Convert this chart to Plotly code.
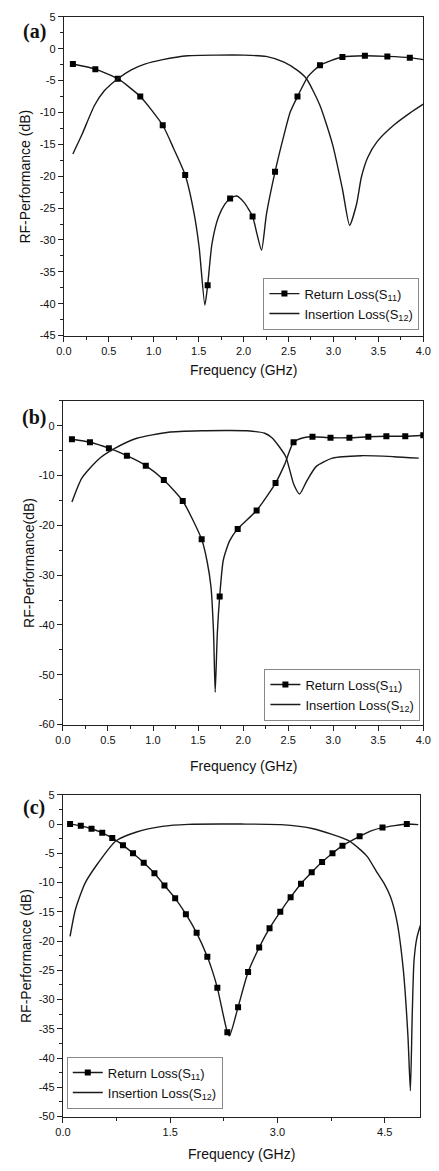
import plotly.graph_objects as go

# ---------------- data ----------------
# Panel (a)
a_s11_x = [0.1, 0.35, 0.6, 0.85, 1.1, 1.22, 1.35, 1.45, 1.505, 1.569, 1.6, 1.648, 1.72, 1.79, 1.85, 1.923,
           2.005, 2.1, 2.148, 2.2, 2.255, 2.35, 2.45, 2.52, 2.6, 2.72, 2.85, 3.1, 3.35, 3.6, 3.85, 4.0]
a_s11_y = [-2.4, -3.2, -4.7, -7.5, -12.0, -15.6, -19.8, -25.9, -31.1, -40.2, -37.1, -30.6, -26.4, -24.4, -23.5, -23.1,
           -24.1, -26.3, -29.0, -31.6, -25.9, -19.3, -13.5, -9.9, -7.5, -4.3, -2.6, -1.3, -1.1, -1.2, -1.4, -1.7]
a_mk_x = [0.1, 0.35, 0.6, 0.85, 1.1, 1.35, 1.6, 1.85, 2.1, 2.35, 2.6, 2.85, 3.1, 3.35, 3.6, 3.85]
a_mk_y = [-2.4, -3.2, -4.7, -7.5, -12.0, -19.8, -37.1, -23.5, -26.3, -19.3, -7.5, -2.6, -1.3, -1.1, -1.2, -1.4]
a_s12_x = [0.1, 0.2, 0.34, 0.45, 0.6, 0.75, 0.9, 1.1, 1.38, 1.7, 2.0, 2.25, 2.45, 2.6, 2.7, 2.85, 2.99, 3.1,
           3.18, 3.257, 3.31, 3.38, 3.49, 3.67, 3.85, 4.0]
a_s12_y = [-16.5, -13.5, -8.9, -6.6, -4.7, -3.3, -2.4, -1.7, -1.1, -1.0, -1.0, -1.2, -2.1, -3.4, -4.7, -8.9, -15.0, -22.0,
           -27.7, -24.4, -20.2, -17.1, -14.5, -12.0, -10.1, -8.7]

# Panel (b)
b_s11_x = [0.1, 0.3, 0.51, 0.71, 0.92, 1.12, 1.33, 1.54, 1.6, 1.643, 1.672, 1.69, 1.714, 1.74, 1.78, 1.85, 1.94,
           2.15, 2.36, 2.46, 2.56, 2.67, 2.77, 2.97, 3.18, 3.39, 3.59, 3.8, 4.0]
b_s11_y = [-2.7, -3.3, -4.5, -6.0, -8.0, -10.9, -15.1, -22.8, -27.2, -32.3, -41.6, -53.5, -41.6, -34.3, -27.0, -23.1, -20.7,
           -17.0, -11.5, -7.8, -3.3, -2.4, -2.2, -2.4, -2.4, -2.2, -2.1, -2.1, -1.9]
b_mk_x = [0.1, 0.3, 0.51, 0.71, 0.92, 1.12, 1.33, 1.54, 1.74, 1.94, 2.15, 2.36, 2.56, 2.77, 2.97, 3.18, 3.39, 3.59, 3.8, 4.0]
b_mk_y = [-2.7, -3.3, -4.5, -6.0, -8.0, -10.9, -15.1, -22.8, -34.3, -20.7, -17.0, -11.5, -3.3, -2.2, -2.4, -2.4, -2.2, -2.1, -2.1, -1.9]
b_s12_x = [0.1, 0.21, 0.39, 0.57, 0.82, 1.17, 1.53, 1.8, 2.05, 2.24, 2.32, 2.385, 2.474, 2.563, 2.627, 2.706, 2.81,
           2.99, 3.31, 3.67, 3.95]
b_s12_y = [-15.3, -10.5, -6.8, -4.6, -2.5, -1.3, -1.0, -0.95, -1.0, -1.5, -2.4, -3.8, -6.2, -11.8, -13.7, -11.1, -8.2,
           -6.5, -6.0, -6.2, -6.5]

# Panel (c)
c_mk_x = [0.1, 0.25, 0.40, 0.55, 0.69, 0.84, 0.98, 1.13, 1.28, 1.42, 1.57, 1.72, 1.87, 2.02, 2.16, 2.30, 2.45, 2.59,
          2.745, 2.89, 3.04, 3.185, 3.33, 3.48, 3.625, 3.77, 3.91, 4.15, 4.47, 4.81]
c_mk_y = [0.0, -0.3, -0.8, -1.5, -2.4, -3.6, -5.0, -6.6, -8.4, -10.5, -12.7, -15.4, -18.6, -22.7, -28.0, -35.6, -31.3, -25.3,
          -21.1, -17.8, -15.0, -12.5, -10.2, -8.25, -6.5, -5.0, -3.7, -2.1, -0.6, 0.0]
c_s11_x = [0.1, 0.25, 0.40, 0.55, 0.69, 0.84, 0.98, 1.13, 1.28, 1.42, 1.57, 1.72, 1.87, 2.02, 2.09, 2.16, 2.30, 2.33,
           2.45, 2.59, 2.745, 2.89, 3.04, 3.185, 3.33, 3.48, 3.625, 3.77, 3.91, 4.15, 4.3, 4.47, 4.81, 4.97]
c_s11_y = [0.0, -0.3, -0.8, -1.5, -2.4, -3.6, -5.0, -6.6, -8.4, -10.5, -12.7, -15.4, -18.6, -22.7, -25.1, -28.0, -35.6, -36.2,
           -31.3, -25.3, -21.1, -17.8, -15.0, -12.5, -10.2, -8.25, -6.5, -5.0, -3.7, -2.1, -1.2, -0.6, 0.0, -0.1]
c_s12_x = [0.1, 0.175, 0.31, 0.49, 0.74, 1.03, 1.39, 1.75, 2.5, 3.05, 3.5, 3.99, 4.17, 4.26, 4.4, 4.49, 4.58, 4.67,
           4.76, 4.825, 4.86, 4.885, 4.91, 4.95, 5.0]
c_s12_y = [-19.2, -14.6, -10.1, -6.7, -2.9, -1.36, -0.4, -0.05, 0.0, -0.1, -0.8, -2.8, -4.5, -5.6, -8.4, -10.1, -12.4, -16.5,
           -24.8, -36.1, -45.6, -33.0, -23.5, -19.5, -17.3]

s11_name = "Return Loss(S<sub>11</sub>)"
s12_name = "Insertion Loss(S<sub>12</sub>)"

panels = [
    dict(s11x=a_s11_x, s11y=a_s11_y, mkx=a_mk_x, mky=a_mk_y, s12x=a_s12_x, s12y=a_s12_y, legend="legend"),
    dict(s11x=b_s11_x, s11y=b_s11_y, mkx=b_mk_x, mky=b_mk_y, s12x=b_s12_x, s12y=b_s12_y, legend="legend2"),
    dict(s11x=c_s11_x, s11y=c_s11_y, mkx=c_mk_x, mky=c_mk_y, s12x=c_s12_x, s12y=c_s12_y, legend="legend3"),
]

LINE = "#1a1a1a"
FONT = "Liberation Sans, Arial, sans-serif"
W, H = 439, 1171

fig = go.Figure()
for i, p in enumerate(panels):
    xa = "x" if i == 0 else f"x{i+1}"
    ya = "y" if i == 0 else f"y{i+1}"
    fig.add_trace(go.Scatter(x=p["s11x"], y=p["s11y"], mode="lines", line=dict(color=LINE, width=1.4, shape="spline", smoothing=0.6),
                             xaxis=xa, yaxis=ya, showlegend=False, hoverinfo="skip"))
    fig.add_trace(go.Scatter(x=p["mkx"], y=p["mky"], mode="markers", marker=dict(symbol="square", size=6, color="black"),
                             xaxis=xa, yaxis=ya, showlegend=False))
    fig.add_trace(go.Scatter(x=[None], y=[None], mode="lines+markers", name=s11_name,
                             line=dict(color=LINE, width=1.4), marker=dict(symbol="square", size=6, color="black"),
                             xaxis=xa, yaxis=ya, legend=p["legend"]))
    fig.add_trace(go.Scatter(x=p["s12x"], y=p["s12y"], mode="lines", name=s12_name,
                             line=dict(color=LINE, width=1.4, shape="spline", smoothing=0.6),
                             xaxis=xa, yaxis=ya, legend=p["legend"]))

# pixel boxes of the three plot areas (left, right, top, bottom)
boxes = [(58, 431, 11, 333), (57, 431, 399, 726), (57, 428, 797, 1122)]
xr = [[0, 4], [0, 4], [0, 5]]
yr = [[-45, 5], [-60, 5], [-50, 5]]
xdt = [0.5, 0.5, 1.5]
xminor = [0.25, 0.25, 0.75]
ytv = [list(range(-45, 6, 5)), list(range(-60, 1, 10)), list(range(-50, 6, 5))]
yminor = [2.5, 5, 2.5]

def px(v):
    return v / W

def py(v):
    return 1 - v / H

axis_common = dict(showline=True, linecolor="#222", linewidth=1.2, mirror=True, ticks="outside", ticklen=5,
                   tickcolor="#222", showgrid=False, zeroline=False,
                   tickfont=dict(family=FONT, size=11, color="#111"))

layout = dict(width=W, height=H, autosize=False, margin=dict(l=0, r=0, t=0, b=0),
              paper_bgcolor="white", plot_bgcolor="white", font=dict(family=FONT, color="#111"))
for i, (l, r, t, b) in enumerate(boxes):
    xk = "xaxis" if i == 0 else f"xaxis{i+1}"
    yk = "yaxis" if i == 0 else f"yaxis{i+1}"
    xa = "x" if i == 0 else f"x{i+1}"
    ya = "y" if i == 0 else f"y{i+1}"
    layout[xk] = dict(axis_common, domain=[px(l), px(r)], range=xr[i], anchor=ya, dtick=xdt[i], tick0=0,
                      tickformat=".1f", minor=dict(ticks="outside", ticklen=3, dtick=xminor[i], tick0=0, tickcolor="#222"))
    layout[yk] = dict(axis_common, domain=[py(b), py(t)], range=yr[i], anchor=xa, tickmode="array", tickvals=ytv[i],
                      ticktext=[str(v) for v in ytv[i]],
                      minor=dict(ticks="outside", ticklen=3, dtick=yminor[i], tick0=0, tickcolor="#222"))

legend_common = dict(bgcolor="white", bordercolor="#888", borderwidth=1, font=dict(family=FONT, size=13, color="#111"),
                     tracegroupgap=0, itemwidth=30)
layout["legend"] = dict(legend_common, x=px(427), y=py(327), xanchor="right", yanchor="bottom")
layout["legend2"] = dict(legend_common, x=px(428), y=py(722), xanchor="right", yanchor="bottom")
layout["legend3"] = dict(legend_common, x=px(61), y=py(1114), xanchor="left", yanchor="bottom")

ann = []
xtitle_y = [368, 768, 1160]
ytitle_x = [18, 22, 18]
ytitles = ["RF-Performance (dB)", "RF-Performance(dB)", "RF-Performance (dB)"]
labels = ["(a)", "(b)", "(c)"]
label_y = [26, 416, 810]
for i, (l, r, t, b) in enumerate(boxes):
    ann.append(dict(text="Frequency (GHz)", x=px((l + r) / 2), y=py(xtitle_y[i]), xref="paper", yref="paper",
                    showarrow=False, font=dict(family=FONT, size=14, color="#111"), xanchor="center", yanchor="middle"))
    ann.append(dict(text=ytitles[i], x=px(ytitle_x[i]), y=py((t + b) / 2), xref="paper", yref="paper", textangle=-90,
                    showarrow=False, font=dict(family=FONT, size=14, color="#111"), xanchor="center", yanchor="middle"))
    ann.append(dict(text="<b>" + labels[i] + "</b>", x=px(27), y=py(label_y[i]), xref="paper", yref="paper",
                    showarrow=False, font=dict(family="Liberation Serif, Times New Roman, serif", size=20, color="#111"),
                    xanchor="center", yanchor="middle"))
layout["annotations"] = ann

fig.update_layout(**layout)
fig.write_html("out.html", config={"displayModeBar": False},
               post_script="document.body.style.margin='0';document.body.style.overflow='hidden';")
